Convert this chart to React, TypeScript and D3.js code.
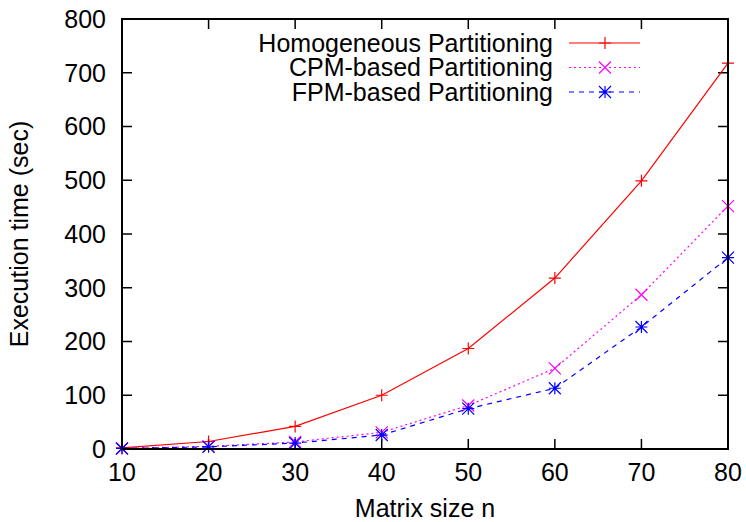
import React from 'react'
import * as d3 from 'd3'

const sizes = [10, 20, 30, 40, 50, 60, 70, 80]
const homogeneous = [2, 14, 42, 100, 187, 318, 499, 718]
const cpmBased = [1, 5, 13, 31, 81, 150, 287, 452]
const fpmBased = [1, 4, 11, 26, 75, 113, 227, 356]
const xTicks = [10, 20, 30, 40, 50, 60, 70, 80]
const yTicks = [0, 100, 200, 300, 400, 500, 600, 700, 800]

const seriesNames = ['Homogeneous Partitioning', 'CPM-based Partitioning', 'FPM-based Partitioning']
const seriesColors = ['#ff0000', '#ff00ff', '#0000ff']
const seriesDash = ['none', '2,3', '5,5']
const seriesMarker = ['plus', 'cross', 'star']

const W = 746
const H = 522
const margin = { top: 19, right: 18, bottom: 73, left: 122 }
const font = 'Liberation Sans, Arial, sans-serif'
const fs = 25

const Marker = ({ kind, x, y, color }: { kind: string; x: number; y: number; color: string }) => {
    const s = 6
    const plus = `M${x - s},${y}H${x + s}M${x},${y - s}V${y + s}`
    const cross = `M${x - s},${y - s}L${x + s},${y + s}M${x - s},${y + s}L${x + s},${y - s}`
    const d = kind === 'plus' ? plus : kind === 'cross' ? cross : plus + cross
    return <path d={d} stroke={color} strokeWidth={1.2} fill="none" />
}

export default function App() {
    const x = d3.scaleLinear().domain([10, 80]).range([margin.left, W - margin.right])
    const y = d3.scaleLinear().domain([0, 800]).range([H - margin.bottom, margin.top])
    const line = d3.line<[number, number]>().x(d => x(d[0])).y(d => y(d[1]))
    const allSeries = [homogeneous, cpmBased, fpmBased]
    const x0 = x.range()[0], x1 = x.range()[1]
    const y0 = y.range()[0], y1 = y.range()[1]
    const tickLen = 10

    return (
        <svg width={W} height={H} style={{ position: 'absolute', left: 0, top: 0 }} fontFamily={font}>
            <rect width={W} height={H} fill="#fff" />

            {/* ticks, mirrored on all sides like gnuplot */}
            {yTicks.map(t => (
                <g key={'y' + t}>
                    <line x1={x0} x2={x0 + tickLen} y1={y(t)} y2={y(t)} stroke="#000" strokeWidth={1.5} />
                    <line x1={x1} x2={x1 - tickLen} y1={y(t)} y2={y(t)} stroke="#000" strokeWidth={1.5} />
                    <text x={x0 - 16} y={y(t)} dy="0.35em" textAnchor="end" fontSize={fs}>{t}</text>
                </g>
            ))}
            {xTicks.map(t => (
                <g key={'x' + t}>
                    <line x1={x(t)} x2={x(t)} y1={y0} y2={y0 - tickLen} stroke="#000" strokeWidth={1.5} />
                    <line x1={x(t)} x2={x(t)} y1={y1} y2={y1 + tickLen} stroke="#000" strokeWidth={1.5} />
                    <text x={x(t)} y={y0 + 32} textAnchor="middle" fontSize={fs}>{t}</text>
                </g>
            ))}

            {allSeries.map((vals, i) => {
                const pts = sizes.map((s, j) => [s, vals[j]] as [number, number])
                return (
                    <g key={seriesNames[i]}>
                        <path d={line(pts) || ''} fill="none" stroke={seriesColors[i]} strokeWidth={1.2}
                            strokeDasharray={seriesDash[i]} />
                        {pts.map(p => (
                            <Marker key={p[0]} kind={seriesMarker[i]} x={x(p[0])} y={y(p[1])} color={seriesColors[i]} />
                        ))}
                    </g>
                )
            })}

            <rect x={x0} y={y1} width={x1 - x0} height={y0 - y1} fill="none" stroke="#000" strokeWidth={2} />

            {/* legend */}
            {seriesNames.map((name, i) => {
                const ly = 43 + i * 24.5
                return (
                    <g key={'leg' + name}>
                        <text x={553} y={ly} dy="0.35em" textAnchor="end" fontSize={fs}>{name}</text>
                        <line x1={569} x2={640} y1={ly} y2={ly} stroke={seriesColors[i]} strokeWidth={1.2}
                            strokeDasharray={seriesDash[i]} />
                        <Marker kind={seriesMarker[i]} x={605} y={ly} color={seriesColors[i]} />
                    </g>
                )
            })}

            <text x={(x0 + x1) / 2} y={H - 5} textAnchor="middle" fontSize={fs}>Matrix size n</text>
            <text transform={`translate(28,${(y0 + y1) / 2}) rotate(-90)`} textAnchor="middle" fontSize={fs}>
                Execution time (sec)
            </text>
        </svg>
    )
}
